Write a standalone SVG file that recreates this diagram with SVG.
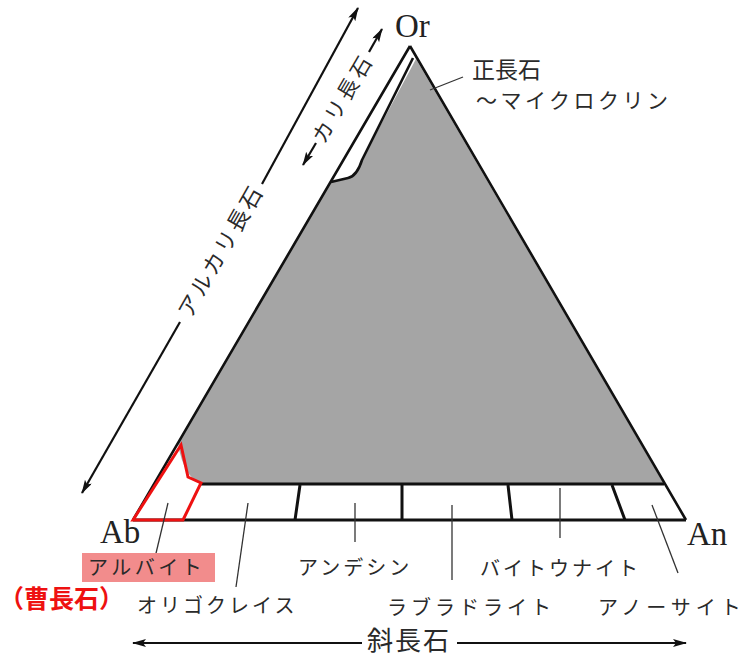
<svg xmlns="http://www.w3.org/2000/svg" width="751" height="660" viewBox="0 0 751 660">
<style>
.edge{fill:none;stroke:#111;stroke-width:2.6;stroke-linejoin:round}
.div{fill:none;stroke:#111;stroke-width:3}
.lead{fill:none;stroke:#333;stroke-width:1.3}
.arr{fill:none;stroke:#111;stroke-width:2.2}
.lat{font-family:"Liberation Serif",serif;font-size:33px;fill:#222}
.jp{font-family:"Noto Sans CJK JP",sans-serif;fill:#2a2a2a}
</style>
<defs>
<marker id="ah" markerUnits="userSpaceOnUse" markerWidth="14" markerHeight="10" refX="13" refY="4" orient="auto">
<path d="M0,0 L14,4 L0,8 L3,4 z" fill="#111"/>
</marker>
</defs>
<rect width="751" height="660" fill="#fff"/>

<g id="diagram">
<!-- gray field -->
<path d="M416,59 L664,484 L206,484 Q184,482 178,443 L331,182 L348,178 Q357,176 362,160 Z" fill="#a5a5a5"/>
<!-- triangle -->
<path class="edge" d="M410,46 L133,520 M410,46 L686,520"/>
<path class="div" d="M133,520 L686,520"/>
<path class="div" d="M201,484 L664,484"/>
<!-- alkali strip inner line -->
<path class="edge" d="M413,58 L362,160 Q357,176 348,178 L331,182" stroke-width="2.4"/>
<!-- plagioclase dividers -->
<path class="div" d="M300,485 L295,520 M402,485 L402,520 M508,485 L512,520 M612,485 L625,520"/>
<!-- albite outline -->
<path d="M133,520 L181,445 L188,477 L201,483 L183,520 Z" fill="none" stroke="#ee1111" stroke-width="3" stroke-linejoin="miter"/>
</g>

<g id="connectors">
<path class="lead" d="M168,503 L152,570"/>
<path class="lead" d="M248,503 L236,587"/>
<path class="lead" d="M355,503 L355,542"/>
<path class="lead" d="M452,505 L452,580"/>
<path class="lead" d="M560,488 L560,538" stroke="#bbb" stroke-width="1"/>
<path class="lead" d="M652,505 L678,573"/>
<path class="lead" d="M463,77 L430,90" stroke-width="1"/>
<path class="arr" d="M180,322 L82,493" marker-end="url(#ah)"/>
<path class="arr" d="M262,184 L358,8" marker-end="url(#ah)"/>
<path class="arr" d="M316,143 L303,165" marker-end="url(#ah)"/>
<path class="arr" d="M369,52 L382,29" marker-end="url(#ah)"/>
<path class="arr" d="M362,643 L133,643" marker-end="url(#ah)"/>
<path class="arr" d="M457,643 L686,643" marker-end="url(#ah)"/>
</g>

<g id="node-or"><text class="lat" x="395" y="37">Or</text></g>
<g id="node-ab"><text class="lat" x="100" y="543">Ab</text></g>
<g id="node-an"><text class="lat" x="687" y="545">An</text></g>

<g id="label-orthoclase">
<text class="jp" x="472" y="78" font-size="23">正長石</text>
<text class="jp" x="476" y="108" font-size="21" letter-spacing="3.5">〜マイクロクリン</text>
</g>
<g id="label-alkali">
<text class="jp" transform="translate(221,251) rotate(-60.3)" text-anchor="middle" dy="0.35em" font-size="22" letter-spacing="3">アルカリ長石</text>
</g>
<g id="label-kali">
<text class="jp" transform="translate(343,98) rotate(-59.7)" text-anchor="middle" dy="0.35em" font-size="21" letter-spacing="4">カリ長石</text>
</g>
<g id="label-albite">
<rect x="82" y="553" width="133" height="29" fill="#f28c8c"/>
<text class="jp" x="88" y="575" font-size="20" letter-spacing="3.5" fill="#7a2a2a">アルバイト</text>
</g>
<g id="label-soda">
<text x="-1" y="608" font-family="Noto Sans CJK JP,sans-serif" font-size="25" font-weight="bold" fill="#ee1111">（曹長石）</text>
</g>
<g id="label-oligoclase"><text class="jp" x="137" y="613" font-size="20" letter-spacing="3">オリゴクレイス</text></g>
<g id="label-andesine"><text class="jp" x="298" y="575" font-size="20" letter-spacing="3">アンデシン</text></g>
<g id="label-bytownite"><text class="jp" x="480" y="576" font-size="20" letter-spacing="3">バイトウナイト</text></g>
<g id="label-labradorite"><text class="jp" x="387" y="615" font-size="20" letter-spacing="4">ラブラドライト</text></g>
<g id="label-anorthite"><text class="jp" x="598" y="615" font-size="20" letter-spacing="5">アノーサイト</text></g>
<g id="label-plagioclase"><text class="jp" x="409" y="650" font-size="26" letter-spacing="2" text-anchor="middle">斜長石</text></g>
</svg>
